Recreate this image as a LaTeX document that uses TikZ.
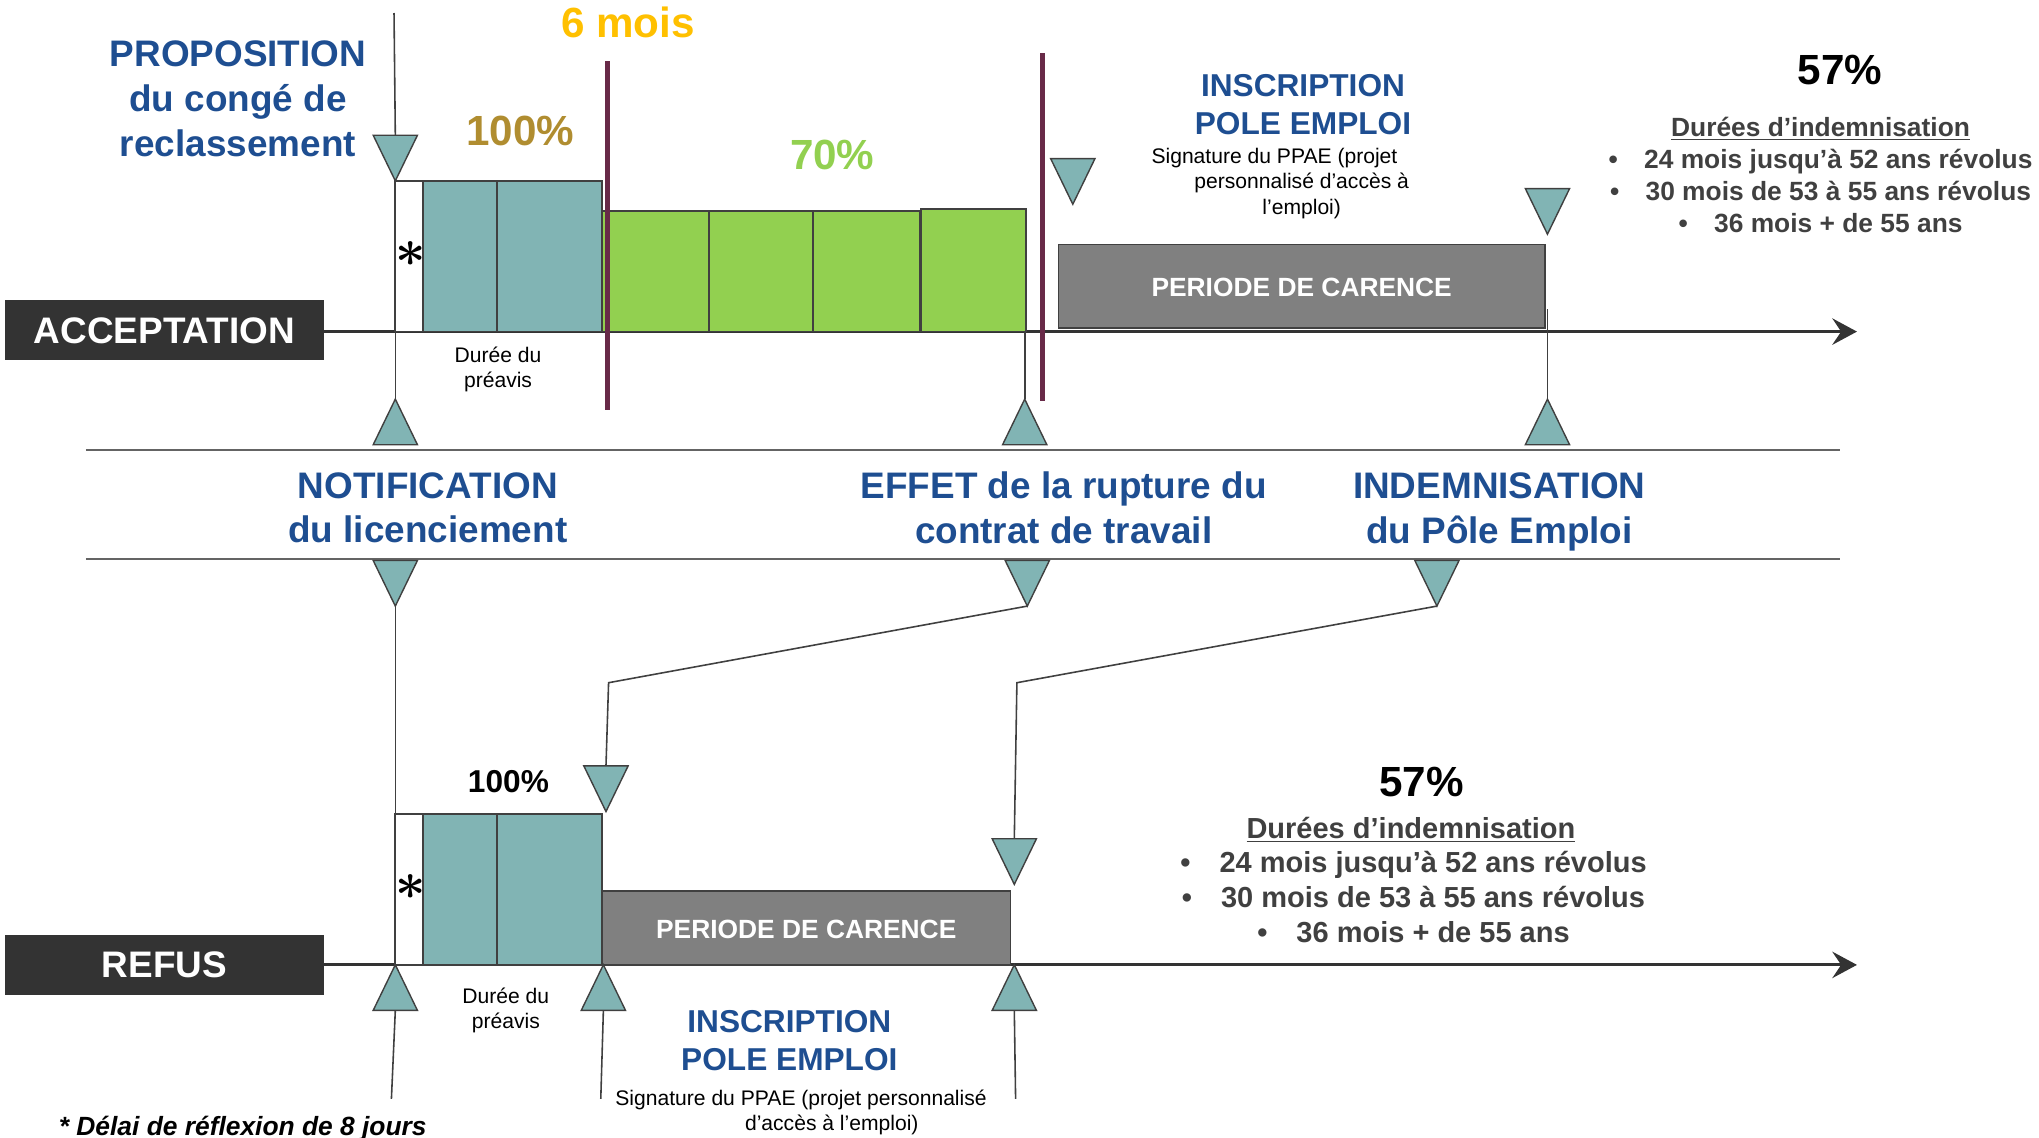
\documentclass[tikz,border=0pt]{standalone}
\usepackage{fontspec}
\setmainfont{Liberation Sans}
\usetikzlibrary{shapes.geometric,arrows.meta}
\definecolor{txtblue}{RGB}{30,78,145}
\definecolor{tealc}{RGB}{129,180,180}
\definecolor{greenc}{RGB}{146,208,80}
\definecolor{goldc}{RGB}{255,192,0}
\definecolor{brownc}{RGB}{176,141,48}
\definecolor{maroonc}{RGB}{104,42,72}
\definecolor{darkc}{RGB}{51,51,51}
\definecolor{linec}{RGB}{64,64,64}
\definecolor{greyc}{RGB}{128,128,128}
\definecolor{sepc}{RGB}{100,100,100}
\definecolor{durc}{RGB}{64,64,64}
\begin{document}
\begin{tikzpicture}[x=0.026cm,y=-0.026cm,
  tri/.style={regular polygon, regular polygon sides=3, draw=linec, fill=tealc, line width=0.8pt, inner sep=0pt, outer sep=0pt, minimum size=1.022cm, yscale=1.19},
  tridn/.style={tri, shape border rotate=180, anchor=north},
  triup/.style={tri, anchor=south},
  bar/.style={draw=linec, line width=1pt},
  conn/.style={draw=linec, line width=0.9pt},
  tline/.style={draw=darkc, line width=1.8pt, -{Stealth[length=14pt, width=15pt, inset=5pt]}},
  sep/.style={draw=sepc, line width=0.9pt},
  mline/.style={draw=maroonc, line width=2.8pt},
  tagbox/.style={fill=darkc, text=white, inner sep=0pt, font=\fontsize{21}{25}\selectfont\bfseries},
  carence/.style={draw=linec, fill=greyc, line width=1pt, text=white, inner sep=0pt, font=\fontsize{15}{18}\selectfont\bfseries},
  bigblue/.style={text=txtblue, align=center, inner sep=0pt, font=\fontsize{21}{25.5}\selectfont\bfseries},
  midblue/.style={text=txtblue, align=center, inner sep=0pt, font=\fontsize{18}{21.5}\selectfont\bfseries},
  small/.style={align=center, inner sep=0pt, font=\fontsize{12}{14.5}\selectfont},
  pct/.style={inner sep=0pt, font=\fontsize{24}{28}\selectfont\bfseries},
  durtop/.style={text=durc, align=center, inner sep=0pt, font=\fontsize{15}{18}\selectfont\bfseries},
  durbot/.style={text=durc, align=center, inner sep=0pt, font=\fontsize{16.5}{20}\selectfont\bfseries},
  ast/.style={inner sep=0pt, scale=1.45, font=\fontsize{20}{24}\selectfont\boldmath}
]
\useasboundingbox (0,0) rectangle (1568,875);

% ================= ACCEPTATION row =================
\node[tagbox, minimum width=245*0.026cm, minimum height=46*0.026cm] (accept) at (126.5,254) {ACCEPTATION};
\draw[tline] (accept.east |- 0,255) -- (1428,255);

% bars
\draw[bar, fill=white] (304,139) rectangle (325,255);
\draw[bar, fill=tealc] (325,139) rectangle (463,255);
\draw[bar] (382,139) -- (382,255);
\draw[bar, fill=greenc] (463,162) rectangle (707,255);
\draw[bar] (545,162) -- (545,255);
\draw[bar] (625,162) -- (625,255);
\draw[bar, fill=greenc] (708,161) rectangle (789,255);
\node[ast] (astA) at (315.5,195) {$\ast$};

% maroon markers
\draw[mline] (467,47) -- (467,315);
\draw[mline] (802,41) -- (802,308);

% grey carence box
\draw[carence] (814,188) rectangle (1188,252);
\node[carence, draw=none, fill=none] (carA) at (1001,221) {PERIODE DE CARENCE};

% triangles top row
\coordinate (propTop) at (303,10);
\node[tridn] (tP) at (304,104) {};
\node[tridn] (tPE) at (825,122) {};
\node[tridn] (tPI) at (1190,145) {};
\node[triup] (tN1) at (304,342) {};
\node[triup] (tE1) at (788,342) {};
\node[triup] (tI1) at (1190,342) {};
\coordinate (wA) at (304,255);
\coordinate (eA) at (788,255);
\coordinate (iA) at (1190,238);

\draw[conn] (propTop) -- (tP.north);
\draw[conn] (wA) -- (tN1.north);
\draw[conn] (eA) -- (tE1.north);
\draw[conn] (iA) -- (tI1.north);

% labels top
\node[bigblue] (prop) at (183,76) {PROPOSITION\\du congé de\\reclassement};
\node[pct, text=goldc] (six) at (483,17) {6 mois};
\node[pct, text=brownc] (p100a) at (400,101) {100\%};
\node[pct, text=greenc] (p70) at (640,119) {70\%};
\node[small] (durA) at (383,284) {Durée du\\préavis};
\node[midblue] (inscA) at (1002,80.5) {INSCRIPTION\\POLE EMPLOI};
\node[small] (sigA) at (1001,141) {Signature du PPAE (projet\hspace*{31pt}\\personnalisé d’accès à\\l’emploi)};
\node[pct, text=black] (p57a) at (1415,54) {57\%};
\node[durtop] (dureeA) at (1400,99) {\underline{Durées d’indemnisation}};
\node[durtop, font=\fontsize{15}{18.2}\selectfont\bfseries] (bulA) at (1400,146.5) {•\hspace{1em}24 mois jusqu’à 52 ans révolus\\•\hspace{1em}30 mois de 53 à 55 ans révolus\\•\hspace{1em}36 mois + de 55 ans};

% ================= separators and middle labels =================
\draw[sep] (66,346) -- (1415,346);
\draw[sep] (66,430) -- (1415,430);
\node[bigblue] (notif) at (329,390.5) {NOTIFICATION\\du licenciement};
\node[bigblue] (effet) at (818,390.5) {EFFET de la rupture du\\contrat de travail};
\node[bigblue] (indem) at (1153,393.5) {INDEMNISATION\\du Pôle Emploi};

\node[tridn] (tN2) at (304,431) {};
\node[tridn] (tE2) at (790,431) {};
\node[tridn] (tI2) at (1105,431) {};

% ================= REFUS row =================
\node[tagbox, minimum width=245*0.026cm, minimum height=46*0.026cm] (refus) at (126.5,742) {REFUS};
\draw[tline] (refus.east |- 0,742) -- (1428,742);

\draw[bar, fill=white] (304,626) rectangle (325,742);
\draw[bar, fill=tealc] (325,626) rectangle (463,742);
\draw[bar] (382,626) -- (382,742);
\node[ast] (astB) at (315.5,682) {$\ast$};
\draw[carence] (463,685) rectangle (777,742);
\node[carence, draw=none, fill=none] (carB) at (620,715) {PERIODE DE CARENCE};

\node[tridn] (tRI) at (466,589) {};
\node[tridn] (tRC) at (780,645) {};
\node[triup] (tB1) at (304,777) {};
\node[triup] (tB2) at (464,777) {};
\node[triup] (tB3) at (780,777) {};

\coordinate (wB) at (304,626);
\coordinate (kE) at (468,525);
\coordinate (kI) at (782,525);
\coordinate (eB1) at (301,845);
\coordinate (eB2) at (462,845);
\coordinate (eB3) at (781,845);

\draw[conn] (tN2.south) -- (wB);
\draw[conn] (tE2.south) -- (kE) -- (tRI.north);
\draw[conn] (tI2.south) -- (kI) -- (tRC.north);
\draw[conn] (tB1.south) -- (eB1);
\draw[conn] (tB2.south) -- (eB2);
\draw[conn] (tB3.south) -- (eB3);

\node[pct, text=black, font=\fontsize{18}{21}\selectfont\bfseries] (p100b) at (391,601) {100\%};
\node[small] (durB) at (389,777) {Durée du\\préavis};
\node[midblue] (inscB) at (607,800) {INSCRIPTION\\POLE EMPLOI};
\node[small] (sigB) at (616,855.5) {Signature du PPAE (projet personnalisé\\\hspace*{35pt}d’accès à l’emploi)};
\node[pct, text=black] (p57b) at (1093,601) {57\%};
\node[durbot] (dureeB) at (1085,638) {\underline{Durées d’indemnisation}};
\node[durbot] (bulB) at (1087,690) {•\hspace{1em}24 mois jusqu’à 52 ans révolus\\•\hspace{1em}30 mois de 53 à 55 ans révolus\\•\hspace{1em}36 mois + de 55 ans};

\node[anchor=base west, inner sep=0pt, font=\fontsize{15}{18}\selectfont\bfseries\itshape] (note) at (45,873) {* Délai de réflexion de 8 jours};
\end{tikzpicture}
\end{document}
